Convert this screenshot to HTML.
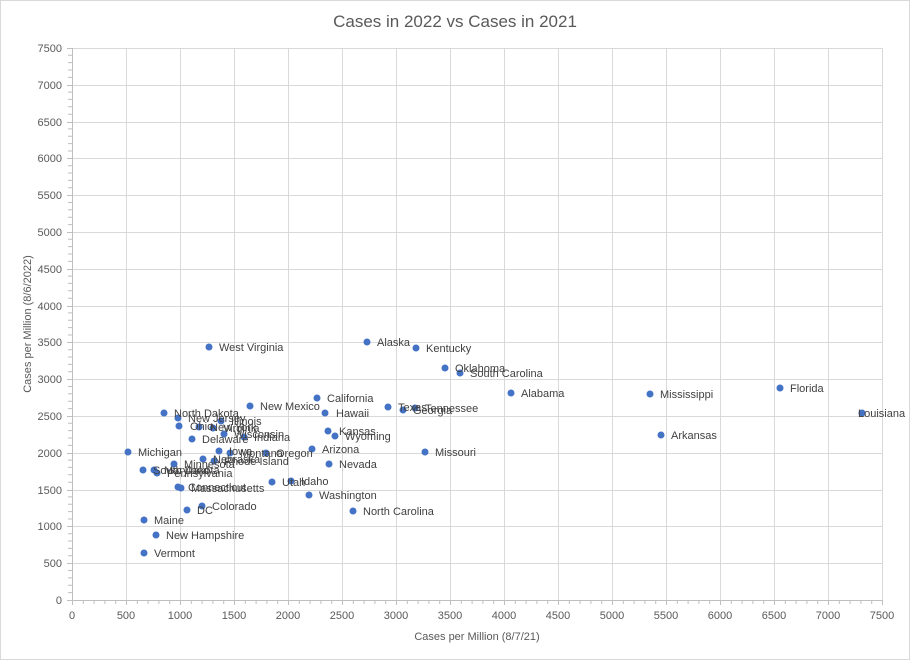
<!DOCTYPE html>
<html><head><meta charset="utf-8"><style>
html,body{margin:0;padding:0;background:#fff}
svg{display:block;font-family:"Liberation Sans",sans-serif}
</style></head><body>
<svg width="910" height="660" viewBox="0 0 910 660" xmlns="http://www.w3.org/2000/svg">
<rect x="0.5" y="0.5" width="909" height="659" fill="#fff" stroke="#d9d9d9"/>
<text x="455" y="27" text-anchor="middle" font-size="17" fill="#595959">Cases in 2022 vs Cases in 2021</text>
<g stroke="#d9d9d9" stroke-width="1">
<line x1="72" y1="48.5" x2="882" y2="48.5"/><line x1="72" y1="85.5" x2="882" y2="85.5"/><line x1="72" y1="122.5" x2="882" y2="122.5"/><line x1="72" y1="158.5" x2="882" y2="158.5"/><line x1="72" y1="195.5" x2="882" y2="195.5"/><line x1="72" y1="232.5" x2="882" y2="232.5"/><line x1="72" y1="269.5" x2="882" y2="269.5"/><line x1="72" y1="306.5" x2="882" y2="306.5"/><line x1="72" y1="342.5" x2="882" y2="342.5"/><line x1="72" y1="379.5" x2="882" y2="379.5"/><line x1="72" y1="416.5" x2="882" y2="416.5"/><line x1="72" y1="453.5" x2="882" y2="453.5"/><line x1="72" y1="490.5" x2="882" y2="490.5"/><line x1="72" y1="526.5" x2="882" y2="526.5"/><line x1="72" y1="563.5" x2="882" y2="563.5"/>
<line x1="126.5" y1="48" x2="126.5" y2="600"/><line x1="180.5" y1="48" x2="180.5" y2="600"/><line x1="234.5" y1="48" x2="234.5" y2="600"/><line x1="288.5" y1="48" x2="288.5" y2="600"/><line x1="342.5" y1="48" x2="342.5" y2="600"/><line x1="396.5" y1="48" x2="396.5" y2="600"/><line x1="450.5" y1="48" x2="450.5" y2="600"/><line x1="504.5" y1="48" x2="504.5" y2="600"/><line x1="558.5" y1="48" x2="558.5" y2="600"/><line x1="612.5" y1="48" x2="612.5" y2="600"/><line x1="666.5" y1="48" x2="666.5" y2="600"/><line x1="720.5" y1="48" x2="720.5" y2="600"/><line x1="774.5" y1="48" x2="774.5" y2="600"/><line x1="828.5" y1="48" x2="828.5" y2="600"/><line x1="882.5" y1="48" x2="882.5" y2="600"/>
</g>
<g stroke="#bfbfbf" stroke-width="1">
<line x1="72.5" y1="48" x2="72.5" y2="605"/><line x1="67" y1="600.5" x2="882" y2="600.5"/>
</g>
<g stroke="#bfbfbf" stroke-width="1">
<path d="M83.3 600v4M94.1 600v4M104.9 600v4M115.7 600v4M137.3 600v4M148.1 600v4M158.9 600v4M169.7 600v4M191.3 600v4M202.1 600v4M212.9 600v4M223.7 600v4M245.3 600v4M256.1 600v4M266.9 600v4M277.7 600v4M299.3 600v4M310.1 600v4M320.9 600v4M331.7 600v4M353.3 600v4M364.1 600v4M374.9 600v4M385.7 600v4M407.3 600v4M418.1 600v4M428.9 600v4M439.7 600v4M461.3 600v4M472.1 600v4M482.9 600v4M493.7 600v4M515.3 600v4M526.1 600v4M536.9 600v4M547.7 600v4M569.3 600v4M580.1 600v4M590.9 600v4M601.7 600v4M623.3 600v4M634.1 600v4M644.9 600v4M655.7 600v4M677.3 600v4M688.1 600v4M698.9 600v4M709.7 600v4M731.3 600v4M742.1 600v4M752.9 600v4M763.7 600v4M785.3 600v4M796.1 600v4M806.9 600v4M817.7 600v4M839.3 600v4M850.1 600v4M860.9 600v4M871.7 600v4M126.5 600v5M180.5 600v5M234.5 600v5M288.5 600v5M342.5 600v5M396.5 600v5M450.5 600v5M504.5 600v5M558.5 600v5M612.5 600v5M666.5 600v5M720.5 600v5M774.5 600v5M828.5 600v5M882.5 600v5"/>
</g>
<g id="yt" stroke="#bfbfbf" stroke-width="1"></g>
<g font-size="11" fill="#595959" text-anchor="end">
<text x="62" y="52">7500</text><text x="62" y="89">7000</text><text x="62" y="126">6500</text><text x="62" y="162">6000</text><text x="62" y="199">5500</text><text x="62" y="236">5000</text><text x="62" y="273">4500</text><text x="62" y="310">4000</text><text x="62" y="346">3500</text><text x="62" y="383">3000</text><text x="62" y="420">2500</text><text x="62" y="457">2000</text><text x="62" y="494">1500</text><text x="62" y="530">1000</text><text x="62" y="567">500</text><text x="62" y="604">0</text>
</g>
<g font-size="11" fill="#595959" text-anchor="middle">
<text x="72" y="619">0</text><text x="126" y="619">500</text><text x="180" y="619">1000</text><text x="234" y="619">1500</text><text x="288" y="619">2000</text><text x="342" y="619">2500</text><text x="396" y="619">3000</text><text x="450" y="619">3500</text><text x="504" y="619">4000</text><text x="558" y="619">4500</text><text x="612" y="619">5000</text><text x="666" y="619">5500</text><text x="720" y="619">6000</text><text x="774" y="619">6500</text><text x="828" y="619">7000</text><text x="882" y="619">7500</text>
</g>
<text x="477" y="640" text-anchor="middle" font-size="11" fill="#595959">Cases per Million (8/7/21)</text>
<text transform="translate(31,324) rotate(-90)" text-anchor="middle" font-size="11" fill="#595959">Cases per Million (8/6/2022)</text>
<g fill="#4472c4">
<circle cx="209" cy="347" r="3.5"/><circle cx="367" cy="342" r="3.5"/><circle cx="416" cy="348" r="3.5"/><circle cx="445" cy="368" r="3.5"/><circle cx="460" cy="373" r="3.5"/><circle cx="511" cy="393" r="3.5"/><circle cx="650" cy="394" r="3.5"/><circle cx="780" cy="388" r="3.5"/><circle cx="862" cy="413" r="3.5"/><circle cx="661" cy="435" r="3.5"/><circle cx="317" cy="398" r="3.5"/><circle cx="250" cy="406" r="3.5"/><circle cx="325" cy="413" r="3.5"/><circle cx="388" cy="407" r="3.5"/><circle cx="415" cy="408" r="3.5"/><circle cx="403" cy="410" r="3.5"/><circle cx="328" cy="431" r="3.5"/><circle cx="335" cy="436" r="3.5"/><circle cx="312" cy="449" r="3.5"/><circle cx="425" cy="452" r="3.5"/><circle cx="329" cy="464" r="3.5"/><circle cx="309" cy="495" r="3.5"/><circle cx="353" cy="511" r="3.5"/><circle cx="164" cy="413" r="3.5"/><circle cx="178" cy="418" r="3.5"/><circle cx="221" cy="421" r="3.5"/><circle cx="179" cy="426" r="3.5"/><circle cx="199" cy="427" r="3.5"/><circle cx="213" cy="428" r="3.5"/><circle cx="224" cy="434" r="3.5"/><circle cx="244" cy="437" r="3.5"/><circle cx="192" cy="439" r="3.5"/><circle cx="128" cy="452" r="3.5"/><circle cx="219" cy="451" r="3.5"/><circle cx="230" cy="453" r="3.5"/><circle cx="266" cy="453" r="3.5"/><circle cx="174" cy="464" r="3.5"/><circle cx="203" cy="459" r="3.5"/><circle cx="214" cy="461" r="3.5"/><circle cx="143" cy="470" r="3.5"/><circle cx="154" cy="470" r="3.5"/><circle cx="157" cy="473" r="3.5"/><circle cx="178" cy="487" r="3.5"/><circle cx="181" cy="488" r="3.5"/><circle cx="272" cy="482" r="3.5"/><circle cx="291" cy="481" r="3.5"/><circle cx="202" cy="506" r="3.5"/><circle cx="187" cy="510" r="3.5"/><circle cx="144" cy="520" r="3.5"/><circle cx="156" cy="535" r="3.5"/><circle cx="144" cy="553" r="3.5"/>
</g>
<g font-size="11" fill="#404040">
<text x="219" y="351">West Virginia</text><text x="377" y="346">Alaska</text><text x="426" y="352">Kentucky</text><text x="455" y="372">Oklahoma</text><text x="470" y="377">South Carolina</text><text x="521" y="397">Alabama</text><text x="660" y="398">Mississippi</text><text x="790" y="392">Florida</text><text x="858" y="417">Louisiana</text><text x="671" y="439">Arkansas</text><text x="327" y="402">California</text><text x="260" y="410">New Mexico</text><text x="336" y="417">Hawaii</text><text x="398" y="411">Texas</text><text x="425" y="412">Tennessee</text><text x="413" y="414">Georgia</text><text x="339" y="435">Kansas</text><text x="345" y="440">Wyoming</text><text x="322" y="453">Arizona</text><text x="435" y="456">Missouri</text><text x="339" y="468">Nevada</text><text x="319" y="499">Washington</text><text x="363" y="515">North Carolina</text><text x="174" y="417">North Dakota</text><text x="188" y="422">New Jersey</text><text x="231" y="425">Illinois</text><text x="190" y="430">Ohio</text><text x="210" y="431">New York</text><text x="223" y="432">Virginia</text><text x="234" y="438">Wisconsin</text><text x="254" y="441">Indiana</text><text x="202" y="443">Delaware</text><text x="138" y="456">Michigan</text><text x="229" y="455">Iowa</text><text x="240" y="457">Montana</text><text x="276" y="457">Oregon</text><text x="184" y="468">Minnesota</text><text x="213" y="463">Nebraska</text><text x="224" y="465">Rhode Island</text><text x="153" y="474">South Dakota</text><text x="164" y="474">Maryland</text><text x="167" y="477">Pennsylvania</text><text x="188" y="491">Connecticut</text><text x="191" y="492">Massachusetts</text><text x="282" y="486">Utah</text><text x="301" y="485">Idaho</text><text x="212" y="510">Colorado</text><text x="197" y="514">DC</text><text x="154" y="524">Maine</text><text x="166" y="539">New Hampshire</text><text x="154" y="557">Vermont</text>
</g>
<g stroke="#bfbfbf" stroke-width="1">
<path d="M68 592.6h4M68 585.3h4M68 577.9h4M68 570.5h4M68 555.8h4M68 548.4h4M68 541h4M68 533.7h4M68 519h4M68 511.6h4M68 504.2h4M68 496.9h4M68 482.2h4M68 474.8h4M68 467.4h4M68 460.1h4M68 445.4h4M68 438h4M68 430.6h4M68 423.3h4M68 408.6h4M68 401.2h4M68 393.8h4M68 386.5h4M68 371.8h4M68 364.4h4M68 357h4M68 349.7h4M68 335h4M68 327.6h4M68 320.2h4M68 312.9h4M68 298.2h4M68 290.8h4M68 283.4h4M68 276.1h4M68 261.4h4M68 254h4M68 246.6h4M68 239.3h4M68 224.6h4M68 217.2h4M68 209.8h4M68 202.5h4M68 187.8h4M68 180.4h4M68 173h4M68 165.7h4M68 151h4M68 143.6h4M68 136.2h4M68 128.9h4M68 114.2h4M68 106.8h4M68 99.4h4M68 92.1h4M68 77.4h4M68 70h4M68 62.6h4M68 55.3h4M67 48.5h5M67 85.5h5M67 122.5h5M67 158.5h5M67 195.5h5M67 232.5h5M67 269.5h5M67 306.5h5M67 342.5h5M67 379.5h5M67 416.5h5M67 453.5h5M67 490.5h5M67 526.5h5M67 563.5h5"/>
</g>
</svg>
</body></html>
